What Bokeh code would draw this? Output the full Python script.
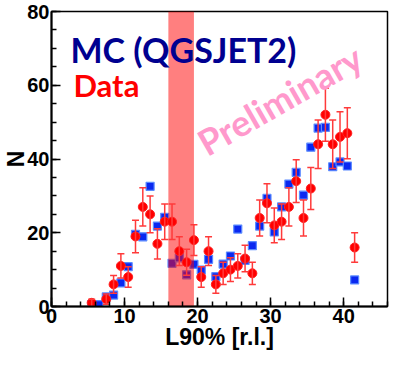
from bokeh.plotting import figure
from bokeh.models import Range1d, FixedTicker, Label, Whisker, TeeHead, ColumnDataSource
from bokeh.embed import file_html
from bokeh.resources import INLINE

# ---- data ----
mc_x = [5.5, 6.5, 7.5, 8.5, 9.5, 10.5, 11.5, 12.5, 13.5, 14.5, 15.5, 16.5, 17.5, 18.5,
        19.5, 20.5, 21.5, 22.5, 23.5, 24.5, 25.5, 26.5, 27.5, 28.5, 29.5, 30.5, 31.5,
        32.5, 33.5, 34.5, 35.5, 36.5, 37.5, 38.5, 39.5, 40.5, 41.5]
mc_n = [0.5, 0.5, 2.6, 3.1, 6.4, 10.8, 19.6, 18.9, 32.6, 21.8, 24.2, 11.7, 13.2, 8.6,
        11.4, 9.9, 12.8, 8.1, 11.5, 13.7, 21.0, 12.5, 16.5, 21.8, 29.3, 20.2, 27.0,
        33.2, 36.4, 30.2, 43.2, 48.4, 48.6, 37.9, 39.2, 38.1, 7.2]

data_x = [5.5, 7.5, 8.5, 9.5, 10.5, 11.5, 12.5, 13.5, 14.5, 15.5, 16.5, 17.5, 18.5,
          19.5, 20.5, 21.5, 22.5, 23.5, 24.5, 25.5, 26.5, 27.5, 28.5, 29.5, 30.5, 31.5,
          32.5, 33.5, 34.5, 35.5, 36.5, 37.5, 38.5, 39.5, 40.5, 41.5]
data_n = [1, 2, 6, 11, 8, 19, 27, 25, 17, 23, 23, 15, 12, 18, 8, 15, 6, 9, 10, 11, 13, 9,
          24, 28, 22, 23, 27, 34, 24, 32, 44, 52, 44, 46, 47, 16]
data_err = [1.0, 1.4, 2.4, 3.3, 2.8, 4.4, 5.2, 5.0, 4.1, 4.8, 4.8, 3.9, 3.5, 4.2, 2.8,
            3.9, 2.4, 3.0, 3.2, 3.3, 3.6, 3.0, 4.9, 5.3, 4.7, 4.8, 5.2, 5.8, 4.9, 5.7,
            6.6, 7.2, 6.6, 6.8, 6.9, 4.0]

band_left = [16.0]
band_right = [19.5]
band_bottom = [0]
band_top = [80]

x_ticks = [0, 10, 20, 30, 40]
x_minor = list(range(0, 47, 2))
y_ticks = [0, 20, 40, 60, 80]
y_minor = list(range(0, 81, 5))

# ---- figure ----
p = figure(width=393, height=352, x_range=Range1d(0, 46), y_range=Range1d(0, 80),
           output_backend="svg", toolbar_location=None,
           min_border_top=11, min_border_right=6, min_border_left=0, min_border_bottom=0)
p.grid.visible = False
p.outline_line_color = "black"
p.outline_line_width = 1.5
p.background_fill_color = "white"
p.border_fill_color = "white"

for ax in (p.xaxis[0], p.yaxis[0]):
    ax.axis_line_width = 2
    ax.axis_line_color = "black"
    ax.major_tick_in = 9
    ax.major_tick_out = 0
    ax.minor_tick_in = 5
    ax.minor_tick_out = 0
    ax.major_tick_line_width = 1.5
    ax.minor_tick_line_width = 1.5
    ax.major_label_text_font = "Liberation Sans"
    ax.major_label_text_font_style = "bold"
    ax.major_label_text_font_size = "20px"
    ax.major_label_text_color = "black"
    ax.axis_label_text_font = "Liberation Sans"
    ax.axis_label_text_font_style = "bold"
    ax.axis_label_text_font_size = "23px"
    ax.axis_label_text_color = "black"

p.xaxis.ticker = FixedTicker(ticks=x_ticks, minor_ticks=x_minor)
p.yaxis.ticker = FixedTicker(ticks=y_ticks, minor_ticks=y_minor)
p.xaxis.axis_label = "L90% [r.l.]"
p.yaxis.axis_label = "N"
p.xaxis.major_label_standoff = 2
p.yaxis.major_label_standoff = 2
p.xaxis.axis_label_standoff = -2
p.yaxis.axis_label_standoff = -5

# MC squares
p.scatter(mc_x, mc_n, marker="square", size=8, fill_color="#0a28f0",
          line_color="#5a8aff", line_width=1.2)

# band
p.quad(left=band_left, right=band_right, bottom=band_bottom, top=band_top,
       fill_color="#ff0000", fill_alpha=0.5, line_color=None)

# data with error bars
lower = [n - e for n, e in zip(data_n, data_err)]
upper = [n + e for n, e in zip(data_n, data_err)]
src = ColumnDataSource(dict(x=data_x, n=data_n, lower=lower, upper=upper))
w = Whisker(source=src, base="x", lower="lower", upper="upper", dimension="height",
            line_color="#ff3a3a", line_width=1.5, level="glyph",
            upper_head=TeeHead(size=7, line_color="#ff3a3a", line_width=1.5),
            lower_head=TeeHead(size=7, line_color="#ff3a3a", line_width=1.5))
p.add_layout(w)
p.scatter("x", "n", source=src, marker="circle", size=9, fill_color="#ff0000",
          line_color="#ff2020", line_width=1)

# texts
p.add_layout(Label(x=2.6, y=69.8, text="MC (QGSJET2)", text_color="#000090",
                   text_font="Lato", text_font_style="bold",
                   text_font_size="34px", text_baseline="alphabetic"))
p.add_layout(Label(x=3.0, y=60.0, text="Data", text_color="#ff0000",
                   text_font="Lato", text_font_style="bold",
                   text_font_size="31px", text_baseline="alphabetic"))
p.add_layout(Label(x=20.4, y=43.8, text="Preliminary", text_color="#ff99cc",
                   text_font="Lato", text_font_style="bold",
                   text_font_size="36px", text_baseline="alphabetic", angle=0.52))

open("out.html", "w").write(file_html(p, INLINE))
